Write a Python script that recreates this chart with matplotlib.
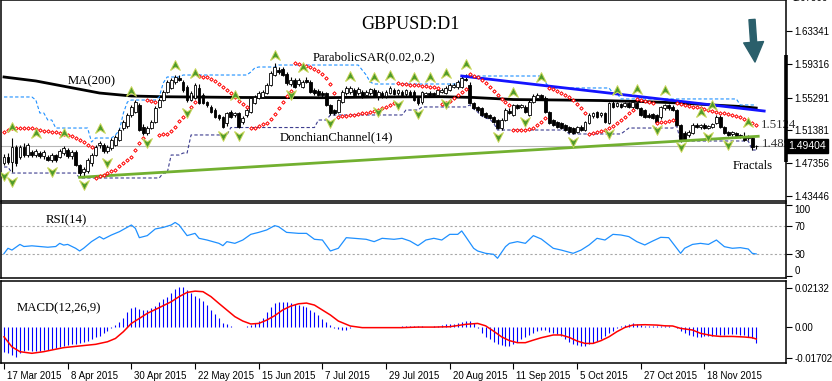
import numpy as np
import matplotlib
matplotlib.use("Agg")
import matplotlib.pyplot as plt
import matplotlib.transforms as mtransforms

# ---------------- data (GBPUSD daily) ----------------
opens = [
    1.4738, 1.4811, 1.4750, 1.4932, 1.4811, 1.4932, 1.4835, 1.4872, 1.4835, 1.4859,
    1.4823, 1.4811, 1.4775, 1.4835, 1.4811, 1.4859, 1.4896, 1.4823, 1.4872, 1.4714,
    1.4629, 1.4641, 1.4738, 1.4835, 1.4956, 1.4956, 1.4884, 1.4920, 1.4956, 1.5017,
    1.5162, 1.5187, 1.5320, 1.5356, 1.5441, 1.5174, 1.5102, 1.5162, 1.5235, 1.5417,
    1.5501, 1.5598, 1.5647, 1.5719, 1.5768, 1.5719, 1.5659, 1.5501, 1.5526, 1.5647,
    1.5562, 1.5477, 1.5417, 1.5380, 1.5320, 1.5296, 1.5223, 1.5356, 1.5320, 1.5344,
    1.5235, 1.5320, 1.5356, 1.5465, 1.5526, 1.5538, 1.5586, 1.5683, 1.5804, 1.5865,
    1.5877, 1.5816, 1.5695, 1.5744, 1.5695, 1.5659, 1.5744, 1.5719, 1.5623, 1.5610,
    1.5586, 1.5586, 1.5441, 1.5380, 1.5356, 1.5477, 1.5586, 1.5598, 1.5623, 1.5586,
    1.5598, 1.5562, 1.5586, 1.5623, 1.5550, 1.5586, 1.5550, 1.5586, 1.5623, 1.5586,
    1.5598, 1.5574, 1.5598, 1.5598, 1.5526, 1.5477, 1.5562, 1.5586, 1.5586, 1.5562,
    1.5598, 1.5586, 1.5623, 1.5659, 1.5659, 1.5659, 1.5756, 1.5683, 1.5465, 1.5417,
    1.5405, 1.5344, 1.5320, 1.5296, 1.5259, 1.5162, 1.5259, 1.5368, 1.5320, 1.5441,
    1.5417, 1.5417, 1.5320, 1.5477, 1.5526, 1.5562, 1.5526, 1.5356, 1.5259, 1.5235,
    1.5223, 1.5199, 1.5174, 1.5162, 1.5114, 1.5174, 1.5138, 1.5223, 1.5308, 1.5356,
    1.5320, 1.5344, 1.5223, 1.5465, 1.5429, 1.5453, 1.5429, 1.5465, 1.5417, 1.5465,
    1.5405, 1.5380, 1.5320, 1.5332, 1.5320, 1.5296, 1.5405, 1.5441, 1.5417, 1.5380,
    1.5199, 1.5102, 1.5078, 1.5102, 1.5199, 1.5174, 1.5199, 1.5162, 1.5174, 1.5223,
    1.5296, 1.5174, 1.5114, 1.5090, 1.5102, 1.5078, 1.5065, 1.5041, 1.5041, 1.4944,
]
closes = [
    1.4811, 1.4750, 1.4932, 1.4738, 1.4932, 1.4835, 1.4956, 1.4835, 1.4884, 1.4823,
    1.4872, 1.4775, 1.4835, 1.4775, 1.4884, 1.4920, 1.4823, 1.4872, 1.4714, 1.4617,
    1.4666, 1.4775, 1.4835, 1.4932, 1.4981, 1.4884, 1.4932, 1.5017, 1.5053, 1.5138,
    1.5235, 1.5320, 1.5417, 1.5477, 1.5138, 1.5102, 1.5162, 1.5235, 1.5405, 1.5501,
    1.5598, 1.5719, 1.5744, 1.5780, 1.5744, 1.5623, 1.5501, 1.5586, 1.5683, 1.5465,
    1.5465, 1.5441, 1.5356, 1.5296, 1.5283, 1.5174, 1.5344, 1.5296, 1.5344, 1.5174,
    1.5283, 1.5380, 1.5526, 1.5538, 1.5586, 1.5598, 1.5683, 1.5828, 1.5901, 1.5840,
    1.5804, 1.5707, 1.5744, 1.5659, 1.5744, 1.5719, 1.5719, 1.5598, 1.5586, 1.5562,
    1.5562, 1.5441, 1.5344, 1.5344, 1.5501, 1.5598, 1.5647, 1.5647, 1.5562, 1.5635,
    1.5538, 1.5598, 1.5635, 1.5550, 1.5598, 1.5538, 1.5598, 1.5647, 1.5574, 1.5623,
    1.5562, 1.5623, 1.5562, 1.5501, 1.5465, 1.5598, 1.5586, 1.5562, 1.5562, 1.5623,
    1.5623, 1.5647, 1.5683, 1.5683, 1.5719, 1.5768, 1.5744, 1.5465, 1.5405, 1.5380,
    1.5320, 1.5296, 1.5283, 1.5235, 1.5162, 1.5259, 1.5380, 1.5344, 1.5441, 1.5405,
    1.5441, 1.5356, 1.5477, 1.5550, 1.5562, 1.5514, 1.5356, 1.5223, 1.5199, 1.5174,
    1.5162, 1.5138, 1.5114, 1.5102, 1.5174, 1.5138, 1.5235, 1.5320, 1.5344, 1.5296,
    1.5344, 1.5235, 1.5465, 1.5417, 1.5465, 1.5417, 1.5465, 1.5417, 1.5477, 1.5405,
    1.5320, 1.5296, 1.5296, 1.5283, 1.5235, 1.5417, 1.5441, 1.5405, 1.5380, 1.5199,
    1.5017, 1.5017, 1.5114, 1.5199, 1.5174, 1.5199, 1.5162, 1.5187, 1.5211, 1.5296,
    1.5174, 1.5102, 1.5078, 1.5114, 1.5065, 1.5053, 1.5017, 1.5053, 1.4932, 1.49404,
]
highs = [
    1.4847, 1.4859, 1.5041, 1.4956, 1.4956, 1.4981, 1.4981, 1.4896, 1.4908, 1.4884,
    1.4896, 1.4835, 1.4859, 1.4847, 1.4908, 1.4944, 1.4920, 1.4896, 1.4896, 1.4726,
    1.4690, 1.4799, 1.4859, 1.4956, 1.5005, 1.4981, 1.4956, 1.5041, 1.5078, 1.5162,
    1.5259, 1.5344, 1.5441, 1.5501, 1.5465, 1.5211, 1.5187, 1.5259, 1.5429, 1.5526,
    1.5623, 1.5744, 1.5768, 1.5804, 1.5804, 1.5744, 1.5683, 1.5610, 1.5707, 1.5695,
    1.5586, 1.5489, 1.5441, 1.5405, 1.5332, 1.5308, 1.5356, 1.5380, 1.5356, 1.5356,
    1.5308, 1.5405, 1.5538, 1.5562, 1.5610, 1.5623, 1.5707, 1.5853, 1.5949, 1.5901,
    1.5901, 1.5840, 1.5780, 1.5768, 1.5768, 1.5744, 1.5780, 1.5744, 1.5647, 1.5635,
    1.5610, 1.5598, 1.5453, 1.5392, 1.5514, 1.5623, 1.5671, 1.5671, 1.5647, 1.5659,
    1.5623, 1.5623, 1.5647, 1.5647, 1.5623, 1.5610, 1.5623, 1.5671, 1.5647, 1.5635,
    1.5623, 1.5635, 1.5623, 1.5623, 1.5538, 1.5610, 1.5598, 1.5610, 1.5598, 1.5635,
    1.5647, 1.5671, 1.5707, 1.5707, 1.5744, 1.5792, 1.5816, 1.5719, 1.5477, 1.5429,
    1.5417, 1.5356, 1.5332, 1.5308, 1.5271, 1.5283, 1.5405, 1.5405, 1.5453, 1.5453,
    1.5453, 1.5441, 1.5501, 1.5574, 1.5586, 1.5574, 1.5550, 1.5368, 1.5271, 1.5247,
    1.5235, 1.5211, 1.5187, 1.5174, 1.5187, 1.5199, 1.5247, 1.5344, 1.5356, 1.5368,
    1.5356, 1.5356, 1.5477, 1.5489, 1.5477, 1.5465, 1.5477, 1.5477, 1.5501, 1.5477,
    1.5417, 1.5392, 1.5344, 1.5344, 1.5332, 1.5429, 1.5453, 1.5453, 1.5441, 1.5392,
    1.5211, 1.5126, 1.5138, 1.5223, 1.5223, 1.5211, 1.5223, 1.5199, 1.5223, 1.5320,
    1.5320, 1.5187, 1.5126, 1.5126, 1.5114, 1.5090, 1.5114, 1.5078, 1.5053, 1.4956,
]
lows = [
    1.4714, 1.4726, 1.4629, 1.4702, 1.4787, 1.4811, 1.4811, 1.4811, 1.4811, 1.4799,
    1.4787, 1.4763, 1.4750, 1.4750, 1.4799, 1.4835, 1.4799, 1.4787, 1.4702, 1.4581,
    1.4569, 1.4617, 1.4702, 1.4823, 1.4920, 1.4859, 1.4859, 1.4896, 1.4944, 1.5005,
    1.5138, 1.5162, 1.5296, 1.5344, 1.5126, 1.5078, 1.5078, 1.5150, 1.5223, 1.5405,
    1.5489, 1.5586, 1.5635, 1.5695, 1.5732, 1.5598, 1.5477, 1.5489, 1.5514, 1.5453,
    1.5453, 1.5417, 1.5344, 1.5283, 1.5259, 1.5162, 1.5187, 1.5283, 1.5296, 1.5162,
    1.5211, 1.5296, 1.5344, 1.5453, 1.5514, 1.5526, 1.5574, 1.5671, 1.5792, 1.5816,
    1.5792, 1.5683, 1.5671, 1.5647, 1.5671, 1.5647, 1.5707, 1.5586, 1.5562, 1.5550,
    1.5538, 1.5429, 1.5320, 1.5320, 1.5344, 1.5465, 1.5562, 1.5574, 1.5550, 1.5562,
    1.5526, 1.5550, 1.5562, 1.5538, 1.5501, 1.5526, 1.5526, 1.5574, 1.5562, 1.5562,
    1.5550, 1.5550, 1.5550, 1.5489, 1.5441, 1.5453, 1.5550, 1.5550, 1.5550, 1.5550,
    1.5586, 1.5574, 1.5610, 1.5647, 1.5635, 1.5647, 1.5732, 1.5453, 1.5392, 1.5356,
    1.5308, 1.5283, 1.5271, 1.5223, 1.5150, 1.5138, 1.5247, 1.5332, 1.5308, 1.5392,
    1.5405, 1.5344, 1.5308, 1.5465, 1.5514, 1.5501, 1.5344, 1.5211, 1.5187, 1.5162,
    1.5150, 1.5126, 1.5102, 1.5090, 1.5102, 1.5126, 1.5126, 1.5211, 1.5283, 1.5283,
    1.5296, 1.5223, 1.5211, 1.5405, 1.5417, 1.5405, 1.5417, 1.5405, 1.5392, 1.5392,
    1.5308, 1.5283, 1.5283, 1.5271, 1.5223, 1.5271, 1.5380, 1.5380, 1.5368, 1.5187,
    1.4993, 1.5005, 1.5053, 1.5090, 1.5162, 1.5150, 1.5150, 1.5150, 1.5162, 1.5211,
    1.5162, 1.5090, 1.5065, 1.5065, 1.5053, 1.5041, 1.5005, 1.5017, 1.4896, 1.4908,
]

# Parabolic SAR(0.02, 0.2), one dot per bar
sar = [
    1.5114, 1.5138, 1.5162, 1.5162, 1.5162, 1.5162, 1.5162, 1.5162, 1.5150, 1.5138,
    1.5132, 1.5126, 1.5114, 1.5108, 1.5102, 1.5090, 1.5078, 1.5065, 1.5041, 1.5017,
    1.4993, 1.4956, 1.4932,
    1.4557, 1.4581, 1.4593, 1.4617, 1.4641, 1.4654, 1.4702, 1.4738, 1.4775, 1.4811,
    1.4896, 1.4981, 1.5041,
    1.5501, 1.5489, 1.5477,
    1.5078, 1.5084, 1.5090, 1.5126, 1.5174, 1.5247, 1.5296, 1.5344, 1.5417, 1.5477,
    1.5792, 1.5780, 1.5780, 1.5756, 1.5732, 1.5695, 1.5659, 1.5623, 1.5586, 1.5538,
    1.5489, 1.5453, 1.5417,
    1.5162, 1.5168, 1.5187, 1.5205, 1.5223, 1.5271, 1.5332, 1.5405, 1.5477, 1.5550,
    1.5610,
    1.5949, 1.5937, 1.5925, 1.5913, 1.5901, 1.5877, 1.5853, 1.5816, 1.5768, 1.5695,
    1.5586,
    1.5296, 1.5302, 1.5308, 1.5314, 1.5320, 1.5332, 1.5344, 1.5350, 1.5356, 1.5368,
    1.5380, 1.5399, 1.5417, 1.5441, 1.5465,
    1.5707, 1.5701, 1.5695, 1.5689, 1.5683, 1.5677, 1.5671, 1.5665, 1.5659, 1.5653,
    1.5647,
    1.5453, 1.5465, 1.5489, 1.5526, 1.5562, 1.5598, 1.5635,
    1.5816, 1.5798, 1.5780, 1.5744, 1.5707, 1.5659, 1.5610, 1.5562, 1.5514, 1.5477,
    1.5441,
    1.5138, 1.5138, 1.5138, 1.5144, 1.5150, 1.5162, 1.5199, 1.5235, 1.5283,
    1.5647, 1.5635, 1.5610, 1.5586, 1.5562, 1.5538, 1.5501, 1.5453, 1.5405, 1.5344,
    1.5090, 1.5102, 1.5114, 1.5126, 1.5138, 1.5162, 1.5187, 1.5223, 1.5259, 1.5296,
    1.5344, 1.5380,
    1.5514, 1.5501, 1.5489, 1.5477, 1.5465,
    1.5223, 1.5229, 1.5235, 1.5247, 1.5259,
    1.5465, 1.5453, 1.5441, 1.5429, 1.5417, 1.5411, 1.5405, 1.5392, 1.5380, 1.5368,
    1.5356, 1.5350, 1.5344, 1.5332, 1.5320, 1.5308, 1.5296, 1.5271, 1.5247, 1.5223,
    1.5199,
]

# MA(200)
ma_i = [0, 8, 16, 24, 32, 40, 60, 80, 95, 110, 118, 128, 140, 150, 160, 170, 178, 185, 189]
ma_v = [1.5780, 1.5732, 1.5659, 1.5586, 1.5550, 1.5541, 1.5532, 1.5529, 1.5538, 1.5541,
        1.5532, 1.5507, 1.5501, 1.5495, 1.5483, 1.5465, 1.5441, 1.5423, 1.5404]

# Donchian Channel(14): level changes (bar where a level starts, level)
don_up_start = [0, 8, 9, 11, 13, 22, 23, 28, 29, 30, 31, 32, 39, 40, 41, 45, 62, 63, 64, 69,
                90, 91, 92, 93, 115, 116, 136, 137, 153, 155, 185]
don_up_val = [1.5538, 1.5501, 1.5344, 1.5259, 1.5162, 1.4993, 1.5041, 1.5078, 1.5138, 1.5344,
              1.5477, 1.5501, 1.5538, 1.5707, 1.5780, 1.5804, 1.5840, 1.5889, 1.5901, 1.5925,
              1.5865, 1.5804, 1.5719, 1.5695, 1.5744, 1.5792, 1.5719, 1.5647, 1.5586, 1.5514,
              1.5441]
don_lo_start = [0, 2, 19, 40, 42, 45, 47, 57, 79, 82, 101, 105, 117, 118, 119, 120, 121, 122,
                123, 124, 142, 156, 157, 169, 170, 188]
don_lo_val = [1.4690, 1.4617, 1.4557, 1.4617, 1.4835, 1.4859, 1.5078, 1.5168, 1.5259, 1.5320,
              1.5380, 1.5417, 1.5441, 1.5392, 1.5356, 1.5308, 1.5283, 1.5271, 1.5223, 1.5138,
              1.5090, 1.5126, 1.5162, 1.5187, 1.5005, 1.4896]

# Fractals
frac_up_i = [2, 8, 15, 24, 32, 43, 48, 58, 68, 75, 87, 93, 97, 103, 107, 111, 116, 128, 135,
             154, 159, 166, 175, 178, 187]
frac_up_p = [1.5174, 1.5102, 1.5102, 1.5162, 1.5610, 1.5925, 1.5828, 1.5562, 1.6046, 1.5901,
             1.5792, 1.5780, 1.5804, 1.5780, 1.5780, 1.5828, 1.5937, 1.5598, 1.5780, 1.5623,
             1.5635, 1.5623, 1.5356, 1.5441, 1.5235]
frac_dn_i = [0, 2, 12, 20, 26, 36, 46, 55, 59, 72, 82, 94, 99, 104, 111, 124, 131, 143, 152,
             164, 170, 177, 182]
frac_dn_p = [1.4581, 1.4509, 1.4629, 1.4472, 1.4738, 1.4981, 1.5344, 1.5065, 1.5065, 1.5562,
             1.5223, 1.5356, 1.5441, 1.5332, 1.5453, 1.5053, 1.5235, 1.4993, 1.5090, 1.5138,
             1.4932, 1.5053, 1.4956]

# trend lines (bar, price)
blue_line_i = [115, 191]
blue_line_p = [1.5792, 1.5368]
green_line_i = [19, 189.5]
green_line_p = [1.4565, 1.5062]
last_price = 1.49404

# RSI(14)
rsi_i = [0, 1, 2, 4, 5, 7, 9, 11, 13, 14, 15, 16, 18, 19, 20, 22, 24, 25, 27, 29,
         32, 33, 34, 36, 38, 40, 42, 43, 44, 46, 48, 49, 51, 54, 55, 56, 58, 60, 62, 64,
         66, 68, 69, 71, 74, 76, 78, 80, 82, 84, 86, 88, 91, 93, 95, 98, 100, 102, 104, 106,
         108, 110, 112, 114, 115, 116, 118, 119, 121, 123, 124, 126, 127, 129, 131, 133, 135,
         138, 140, 143, 145, 147, 149, 151, 153, 155, 157, 159, 161, 163, 165, 167, 170, 171,
         173, 175, 177, 179, 181, 183, 185, 187, 188, 189]
rsi_v = [31, 38.5, 36, 44, 41, 42, 41, 40, 41, 45.5, 43, 44, 38.5, 34.7, 38.5, 48, 55, 51.6,
         57.3, 62, 71.4, 66.7, 53.5, 56.4, 65.8, 68, 71.4, 75, 71.4, 56.4, 59.6, 52.6, 50.2,
         45.5, 42.2, 47.9, 45.5, 50.2, 58.2, 61, 64.4, 70.5, 69, 61, 59.6, 59.6, 51.2, 50.2,
         34.7, 38.5, 53.5, 52.6, 51.2, 47.9, 52.6, 51.2, 52.6, 48.8, 42.2, 50.2, 52.6, 50.2,
         58.2, 58.2, 63, 55, 38.5, 34.7, 31.4, 30, 24.4, 40.8, 45.5, 47.9, 45.5, 56.4, 51.6,
         38.5, 36, 31.4, 36, 43.2, 52.6, 50.2, 58.2, 57.3, 55, 47.9, 43.2, 48.8, 54, 53.5,
         31.4, 38.5, 44, 45.5, 44, 50.2, 40.8, 38.5, 39.4, 37.5, 31.4, 30.5]

# MACD(12,26,9): main as histogram (one per bar), signal line
macd_hist = [
    -0.0140, -0.0145, -0.0154, -0.0164, -0.0145, -0.0133, -0.0127, -0.0131, -0.0134, -0.0133,
    -0.0127, -0.0125, -0.0122, -0.0118, -0.0111, -0.0105, -0.0102, -0.0096, -0.0093, -0.0087,
    -0.0084, -0.0076, -0.0067, -0.0058, -0.0049, -0.0036, -0.0024, -0.0009, 0.0009, 0.0025,
    0.0045, 0.0078, 0.0102, 0.0109, 0.0098, 0.0091, 0.0091, 0.0100, 0.0114, 0.0133,
    0.0149, 0.0164, 0.0185, 0.0205, 0.0218, 0.0218, 0.0198, 0.0182, 0.0169, 0.0158,
    0.0142, 0.0118, 0.0091, 0.0069, 0.0045, 0.0018, 0.0013, 0.0005, -0.0002, -0.0004,
    -0.0002, 0.0005, 0.0011, 0.0018, 0.0031, 0.0045, 0.0078, 0.0109, 0.0131, 0.0136,
    0.0134, 0.0133, 0.0127, 0.0124, 0.0120, 0.0114, 0.0105, 0.0091, 0.0082, 0.0064,
    0.0044, 0.0027, 0.0007, -0.0005, -0.0013, -0.0016, -0.0016, -0.0005, -0.0004, -0.0003,
    -0.0002, -0.0002, -0.0003, -0.0002, -0.0001, -0.0002, -0.0003, -0.0002, -0.0001, 0.0000,
    0.0002, 0.0002, 0.0002, 0.0004, 0.0004, 0.0002, -0.0002, 0.0000, 0.0004, 0.0005,
    0.0009, 0.0013, 0.0015, 0.0016, 0.0020, 0.0025, 0.0029, 0.0031, 0.0018, -0.0009,
    -0.0033, -0.0055, -0.0067, -0.0082, -0.0093, -0.0100, -0.0107, -0.0104, -0.0093, -0.0082,
    -0.0069, -0.0056, -0.0045, -0.0035, -0.0025, -0.0020, -0.0020, -0.0027, -0.0035, -0.0040,
    -0.0051, -0.0069, -0.0085, -0.0094, -0.0102, -0.0104, -0.0104, -0.0094, -0.0087, -0.0078,
    -0.0067, -0.0053, -0.0036, -0.0022, -0.0005, 0.0004, 0.0011, 0.0016, 0.0018, 0.0013,
    0.0009, 0.0005, 0.0004, 0.0004, 0.0005, 0.0005, 0.0005, 0.0004, 0.0000, -0.0009,
    -0.0022, -0.0036, -0.0047, -0.0053, -0.0055, -0.0055, -0.0053, -0.0051, -0.0049, -0.0045,
    -0.0044, -0.0044, -0.0042, -0.0042, -0.0042, -0.0044, -0.0047, -0.0055, -0.0064, -0.0091,
]
sig_i = [0, 2, 4, 7, 10, 12, 15, 19, 23, 26, 28, 30, 32, 34, 36, 39, 42, 44, 46, 48,
         50, 52, 54, 56, 58, 60, 62, 64, 66, 68, 70, 72, 74, 76, 78, 80, 82, 84, 87, 90,
         100, 104, 108, 112, 116, 119, 121, 123, 125, 127, 129, 131, 133, 135, 138, 140, 142,
         144, 146, 148, 150, 152, 154, 156, 158, 161, 164, 166, 168, 170, 173, 175, 178, 180,
         183, 186, 188, 189]
sig_v = [-0.0055, -0.0110, -0.0136, -0.0145, -0.0136, -0.0127, -0.0114, -0.0105, -0.0096, -0.0082,
         -0.0064, -0.0027, 0.0018, 0.0045, 0.0073, 0.0104, 0.0136, 0.0164, 0.0187, 0.0194,
         0.0191, 0.0164, 0.0127, 0.0091, 0.0055, 0.0031, 0.0015, 0.0018, 0.0036, 0.0060,
         0.0091, 0.0112, 0.0125, 0.0129, 0.0118, 0.0091, 0.0064, 0.0031, 0.0004, -0.0005,
         -0.0005, -0.0002, -0.0002, 0.0000, 0.0013, 0.0018, 0.0005, -0.0024, -0.0055, -0.0076,
         -0.0087, -0.0087, -0.0073, -0.0060, -0.0045, -0.0045, -0.0058, -0.0078, -0.0091, -0.0091,
         -0.0076, -0.0055, -0.0027, -0.0004, 0.0009, 0.0011, 0.0009, 0.0005, 0.0004, -0.0009,
         -0.0018, -0.0036, -0.0049, -0.0053, -0.0053, -0.0056, -0.0060, -0.0067]

price_ticks = [1.63341, 1.59316, 1.55291, 1.51381, 1.47356, 1.43446]
date_ticks = [0, 16, 32, 48, 64, 80, 96, 112, 128, 144, 160, 176]
date_labels = ['17 Mar 2015', '8 Apr 2015', '30 Apr 2015', '22 May 2015', '15 Jun 2015',
               '7 Jul 2015', '29 Jul 2015', '20 Aug 2015', '11 Sep 2015', '5 Oct 2015',
               '27 Oct 2015', '18 Nov 2015']

# ---------------- figure ----------------
SERIF = ['Liberation Serif', 'DejaVu Serif']
SANS = ['Liberation Sans', 'DejaVu Sans']
plt.rcParams['font.family'] = SANS

W, H = 832, 381
fig = plt.figure(figsize=(W / 100, H / 100), dpi=100)


def panel(top, bottom):
    # pixel rows of the reference -> figure rect
    a = fig.add_axes([1 / W, 1 - bottom / H, 785 / W, (bottom - top) / H])
    a.set_xlim(-0.754, 196.48)
    for s in a.spines.values():
        s.set_linewidth(1.1)
        s.set_color('black')
    a.yaxis.tick_right()
    a.tick_params(axis='y', direction='out', length=4, width=0.8, pad=2, labelsize=7)
    a.tick_params(axis='x', bottom=False, labelbottom=False)
    return a


ax = panel(0.5, 201)
ax_rsi = panel(202.5, 278.3)
ax_macd = panel(280.5, 363)

# ---- main price panel ----
ax.set_ylim(1.42783, 1.67063)
idx = np.arange(len(closes))
o, c, h, l = map(np.array, (opens, closes, highs, lows))
rising = c >= o

ax.axhline(last_price, color='#b8b8b8', lw=0.8, zorder=1)
ax.plot(ma_i, ma_v, color='black', lw=2.0, zorder=2)

up_series = np.repeat(don_up_val, np.diff(don_up_start + [len(closes)]))
lo_series = np.repeat(don_lo_val, np.diff(don_lo_start + [len(closes)]))
ax.plot(idx, up_series, color='#1e90ff', lw=0.8, ls=(0, (3, 2)), zorder=2)
ax.plot(idx, lo_series, color='#3d3d8f', lw=0.8, ls=(0, (3, 2)), zorder=2)

ax.vlines(idx, l, h, color='black', lw=0.8, zorder=3)
ax.bar(idx, np.maximum(np.abs(c - o), 0.0004), bottom=np.minimum(o, c), width=0.7,
       color=np.where(rising, 'white', 'black'), edgecolor='black', linewidth=0.6, zorder=4)

ax.plot(blue_line_i, blue_line_p, color='#1414ff', lw=2.0, zorder=5)
ax.plot(green_line_i, green_line_p, color='#72b030', lw=2.0, zorder=5)

ax.scatter(idx, sar, marker='D', s=3, facecolor='white', edgecolor='#ff0000',
           linewidths=0.7, zorder=6)

chevron_up = [(-1, -1), (0, 1), (1, -1), (0, -0.35), (-1, -1)]
chevron_dn = [(-1, 1), (0, -1), (1, 1), (0, 0.35), (-1, 1)]
ax.plot(frac_up_i, frac_up_p, ls='none', marker=chevron_up, ms=7, mfc='#4e9a2a',
        mec='#c9d65a', mew=0.7, zorder=7)
ax.plot(frac_dn_i, frac_dn_p, ls='none', marker=chevron_dn, ms=7, mfc='#4e9a2a',
        mec='#c9d65a', mew=0.7, zorder=7)

ax.set_yticks(price_ticks)
ax.set_yticklabels([f'{p:.5f}' for p in price_ticks])

blend = mtransforms.blended_transform_factory(ax.transAxes, ax.transData)
ax.text(1.008, 1.67366, '1.67366', transform=blend, fontsize=7, va='center', ha='left',
        clip_on=False)
ax.text(1.003, last_price, f'{last_price:.5f}', transform=blend, fontsize=7.5, va='center',
        ha='left', color='white', clip_on=False, zorder=20,
        bbox=dict(boxstyle='square,pad=0.2', fc='black', ec='black'))
ax.plot([1, 1], [0.195, 0.73], transform=ax.transAxes, color='black', lw=2.6,
        solid_capstyle='butt', clip_on=False, zorder=15)

ax.text(0.521, 0.878, 'GBPUSD:D1', transform=ax.transAxes, family=SERIF, fontsize=13,
        ha='center', va='center')
ax.text(0.0854, 0.598, 'MA(200)', transform=ax.transAxes, family=SERIF, fontsize=9.2,
        ha='left', va='center')
ax.text(0.397, 0.718, 'ParabolicSAR(0.02,0.2)', transform=ax.transAxes, family=SERIF,
        fontsize=9.2, ha='left', va='center')
ax.text(0.355, 0.316, 'DonchianChannel(14)', transform=ax.transAxes, family=SERIF,
        fontsize=9.2, ha='left', va='center')
ax.text(0.9325, 0.1746, 'Fractals', transform=ax.transAxes, family=SERIF, fontsize=9.2,
        ha='left', va='center')
ax.text(190.2, 1.5124, '1.5124', family=SERIF, fontsize=9.2, ha='left', va='bottom',
        color='#333333', clip_on=False, zorder=9)
ax.text(190.4, 1.489, '1.489', family=SERIF, fontsize=9.2, ha='left', va='bottom',
        color='#333333', clip_on=False, zorder=9)

ax.annotate('', xy=(0.9605, 0.693), xytext=(0.9567, 0.905), xycoords='axes fraction',
            arrowprops=dict(arrowstyle='simple,head_length=0.65,head_width=0.65,tail_width=0.2',
                            color='#2b5f6b', shrinkA=0, shrinkB=0, mutation_scale=22))

# ---- RSI panel ----
ax_rsi.set_ylim(-3.9, 103.2)
for lvl in (70, 30):
    ax_rsi.axhline(lvl, color='#a8a8a8', lw=0.8, ls=(0, (2, 2)))
ax_rsi.plot(rsi_i, rsi_v, color='#1e90ff', lw=0.9)
ax_rsi.set_yticks([100, 70, 30, 0])
ax_rsi.set_yticklabels(['100', '70', '30', '0'])
rl = ax_rsi.get_yticklabels()
rl[0].set_va('top')
rl[3].set_va('bottom')
ax_rsi.text(0.0575, 0.77, 'RSI(14)', transform=ax_rsi.transAxes, family=SERIF, fontsize=9.2,
            ha='left', va='center')

# ---- MACD panel ----
ax_macd.set_ylim(-0.01978, 0.0252)
ax_macd.vlines(idx, 0, macd_hist, color='#0000ff', lw=0.8)
ax_macd.plot(sig_i, sig_v, color='#ff0000', lw=1.1)
ax_macd.set_yticks([0.02132, 0.0, -0.017025])
ax_macd.set_yticklabels(['0.02132', '0.00', '-0.017025'])
ax_macd.text(0.0204, 0.667, 'MACD(12,26,9)', transform=ax_macd.transAxes, family=SERIF,
             fontsize=9.2, ha='left', va='center')

ax_macd.tick_params(axis='x', bottom=True, labelbottom=True, direction='out', length=4,
                    width=0.8, pad=2, labelsize=7)
ax_macd.set_xticks(date_ticks)
ax_macd.set_xticklabels(date_labels, ha='left')
shift = mtransforms.ScaledTranslation(3 / 100, 0, fig.dpi_scale_trans)
for lab in ax_macd.get_xticklabels():
    lab.set_transform(lab.get_transform() + shift)

fig.savefig('out.png', dpi=100)
